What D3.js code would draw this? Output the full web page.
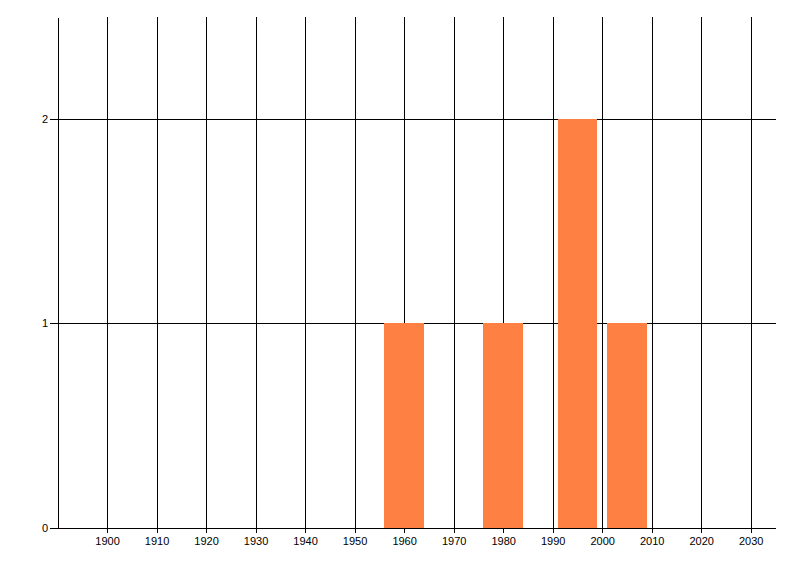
<!DOCTYPE html>
<html><head><meta charset="utf-8">
<script src="https://cdn.jsdelivr.net/npm/d3@7"></script>
<style>body{margin:0;background:#fff}svg{display:block}text{font-family:"Liberation Sans",Arial,sans-serif;font-size:11px;fill:#000}</style>
</head><body><svg id="c" width="800" height="576"></svg>
<script>
const binCenters = [1960, 1980, 1995, 2005];
const counts = [1, 1, 2, 1];
const binWidth = 8;
const xTicks = [1900,1910,1920,1930,1940,1950,1960,1970,1980,1990,2000,2010,2020,2030];
const yTicks = [0, 1, 2];

const svg = d3.select("#c");
const x = d3.scaleLinear().domain([1890, 2035]).range([57.5, 775.5]);
const y = d3.scaleLinear().domain([0, 2.5]).range([527.5, 17]);

// vertical gridlines
svg.append("g").selectAll("line").data(xTicks).join("line")
  .attr("x1", d => Math.round(x(d)) + 0.5).attr("x2", d => Math.round(x(d)) + 0.5)
  .attr("y1", y(2.5)).attr("y2", y(0))
  .attr("stroke", "#000").attr("stroke-width", 1).attr("shape-rendering", "crispEdges");
// horizontal gridlines
svg.append("g").selectAll("line").data(yTicks.filter(d => d > 0)).join("line")
  .attr("x1", x(1890)).attr("x2", x(2035))
  .attr("y1", d => Math.round(y(d)) + 0.5).attr("y2", d => Math.round(y(d)) + 0.5)
  .attr("stroke", "#000").attr("stroke-width", 1).attr("shape-rendering", "crispEdges");

// bars
svg.append("g").selectAll("rect").data(binCenters).join("rect")
  .attr("x", d => Math.round(x(d - binWidth / 2)))
  .attr("width", d => Math.round(x(d + binWidth / 2)) - Math.round(x(d - binWidth / 2)))
  .attr("y", (d, i) => Math.round(y(counts[i])))
  .attr("height", (d, i) => Math.round(y(0)) - Math.round(y(counts[i])))
  .attr("fill", "#FF8043").attr("shape-rendering", "crispEdges");

// axes
const xAxis = d3.axisBottom(x).tickValues(xTicks).tickFormat(d3.format("d")).tickSize(5).tickSizeOuter(0);
const gx = svg.append("g").attr("transform", `translate(0,${Math.round(y(0))})`).call(xAxis);
gx.select(".domain").attr("stroke", "#000");
gx.selectAll(".tick line").attr("stroke", "#000");
gx.selectAll(".tick text").attr("dy", null).attr("y", 17);
gx.attr("font-family", null).attr("font-size", null);

const yAxis = d3.axisLeft(y).tickValues(yTicks).tickFormat(d3.format("d")).tickSize(8).tickSizeOuter(0);
const gy = svg.append("g").attr("transform", `translate(${Math.round(x(1890))},0)`).call(yAxis);
gy.select(".domain").attr("stroke", "#000");
gy.selectAll(".tick line").attr("stroke", "#000");
gy.selectAll(".tick text").attr("x", -10);
gy.attr("font-family", null).attr("font-size", null);
svg.selectAll(".domain, .tick line").attr("shape-rendering", "crispEdges");
</script></body></html>
